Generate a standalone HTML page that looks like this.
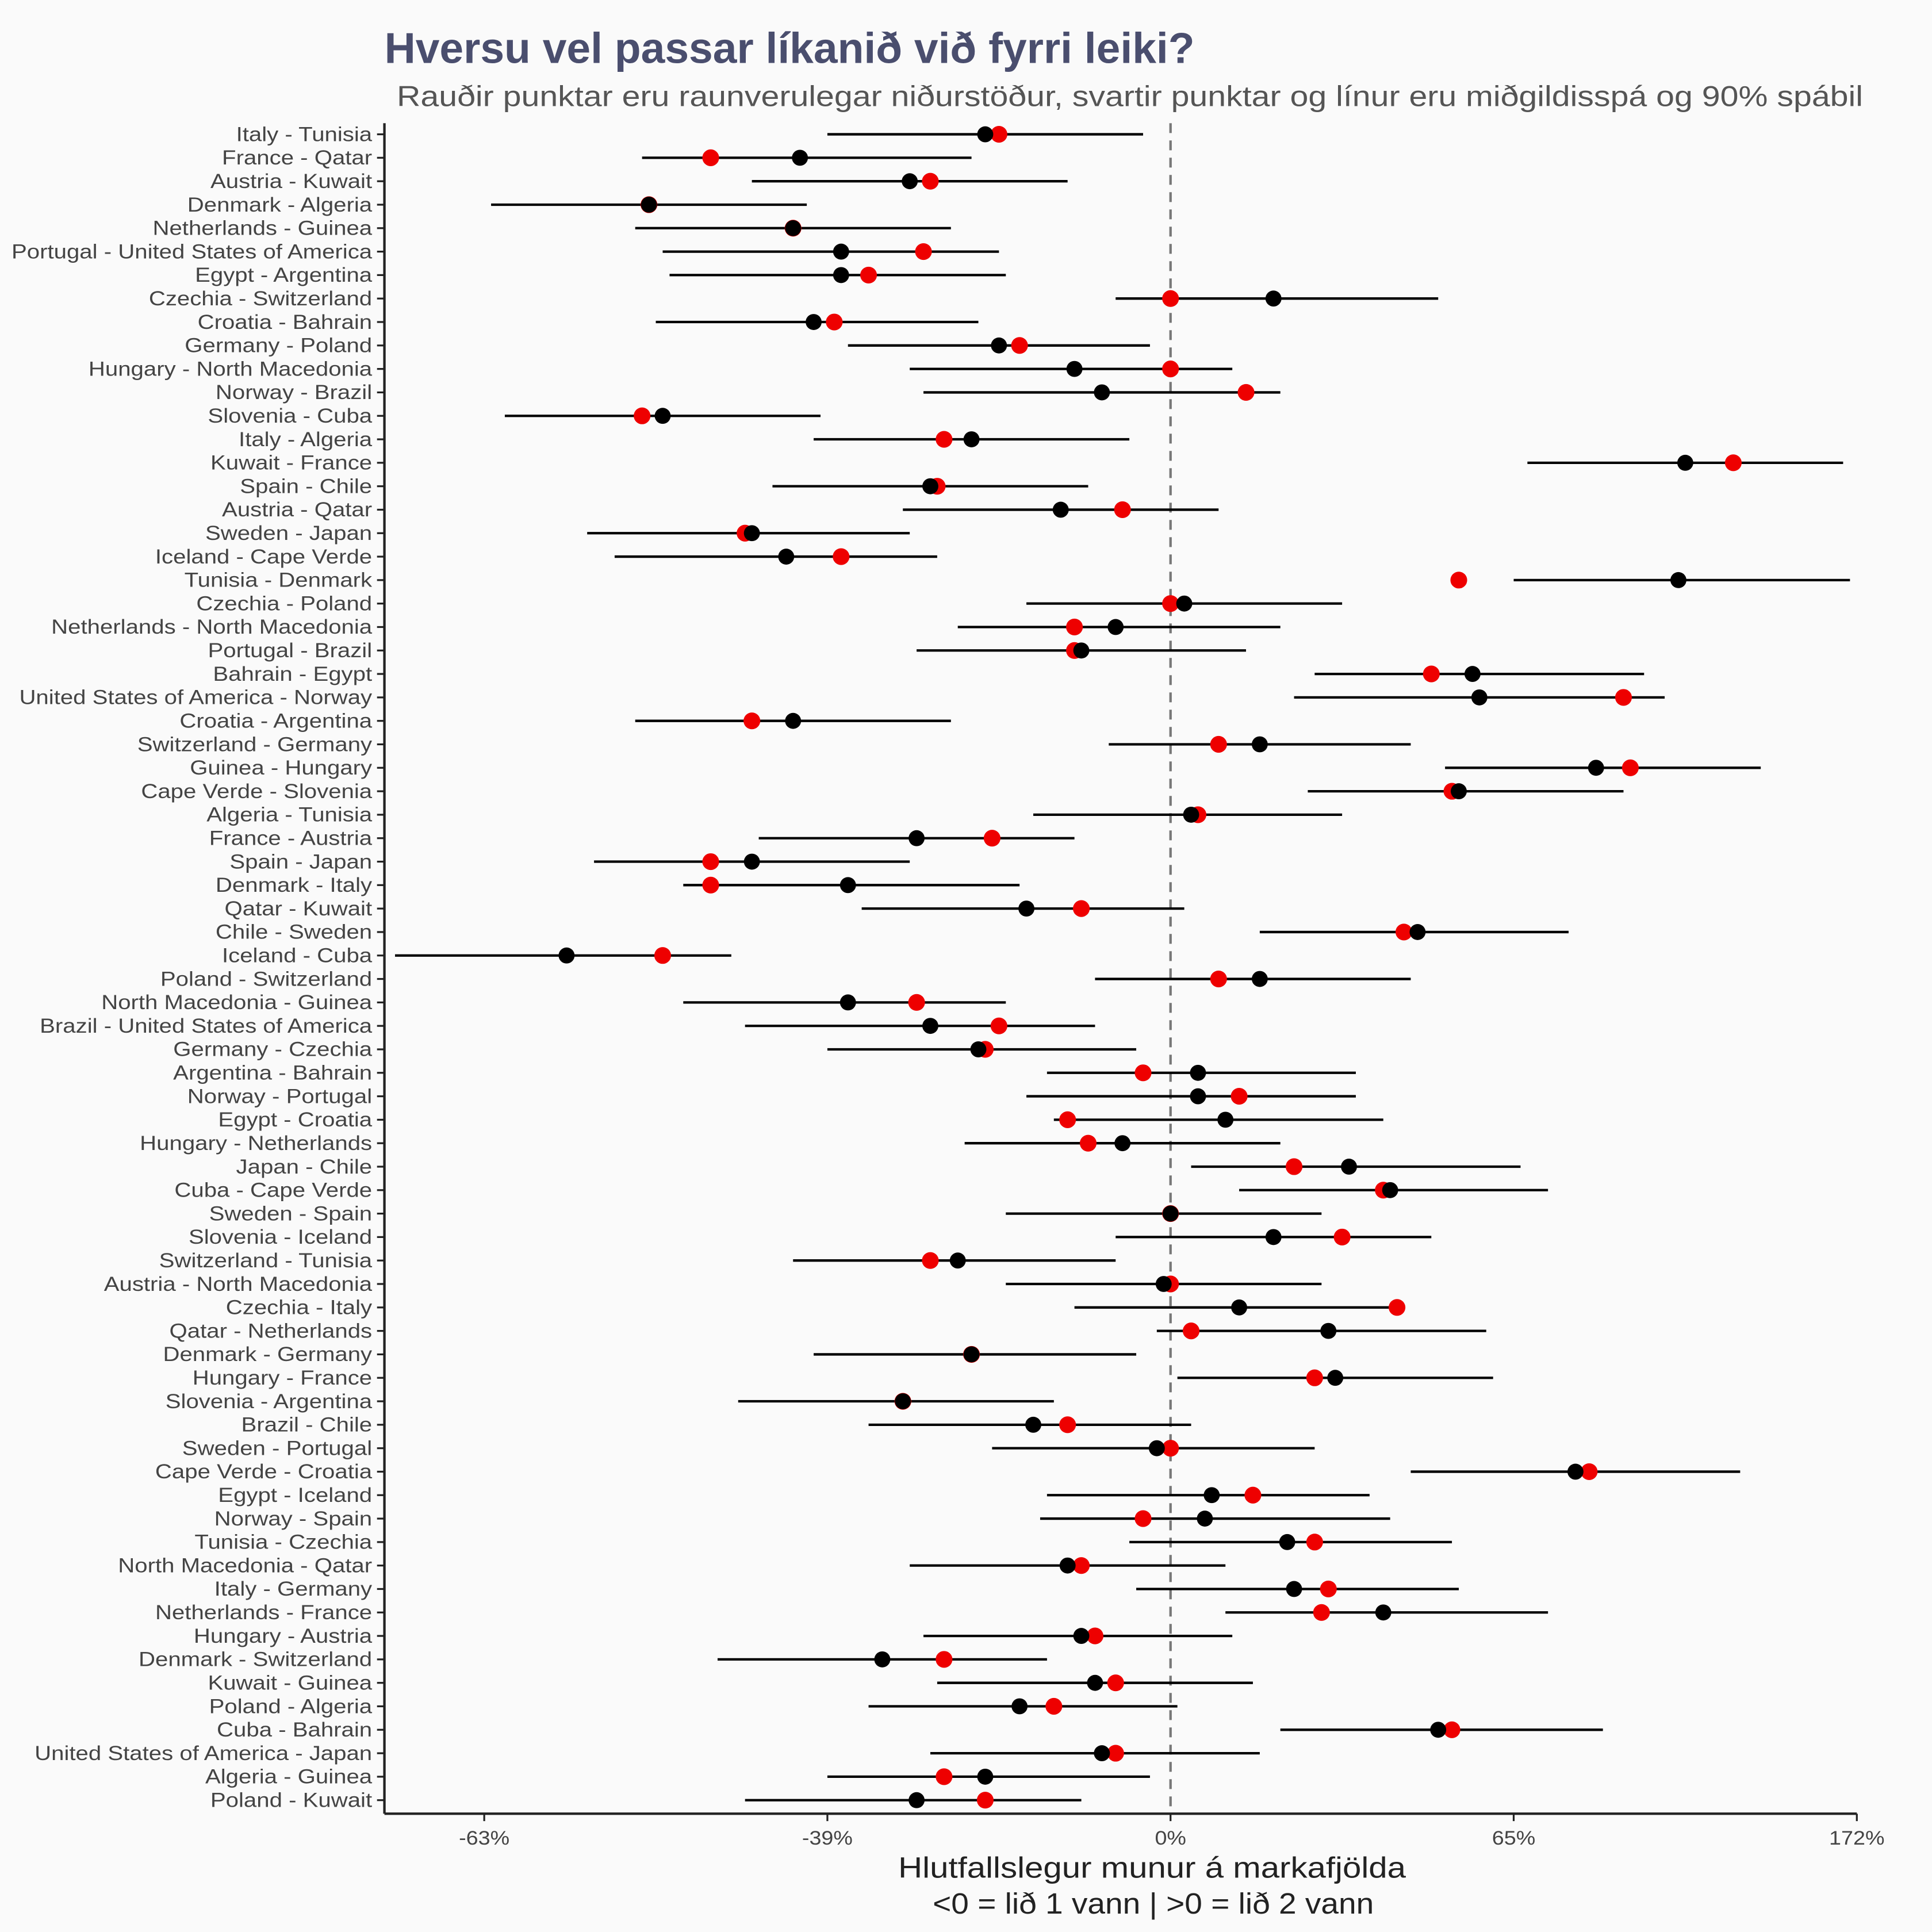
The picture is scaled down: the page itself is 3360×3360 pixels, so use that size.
<!DOCTYPE html>
<html><head><meta charset="utf-8">
<style>
html,body{margin:0;padding:0;background:#fafafa;}
svg{display:block;font-family:"Liberation Sans",sans-serif;}
</style></head>
<body>
<svg id="chart" width="3360" height="3360" viewBox="0 0 1568 1568" xmlns="http://www.w3.org/2000/svg">
<rect width="1568" height="1568" fill="#fafafa"/>
<text x="312" y="51" font-size="35" font-weight="bold" fill="#4a4e6e">Hversu vel passar líkanið við fyrri leiki?</text>
<text x="322" y="86" font-size="23.5" fill="#555" textLength="1190" lengthAdjust="spacingAndGlyphs">Rauðir punktar eru raunverulegar niðurstöður, svartir punktar og línur eru miðgildisspá og 90% spábil</text>
<g id="plot"></g>
<text x="729" y="1524" font-size="24" fill="#222" textLength="412" lengthAdjust="spacingAndGlyphs">Hlutfallslegur munur á markafjölda</text>
<text x="757" y="1553" font-size="24" fill="#222" textLength="358" lengthAdjust="spacingAndGlyphs">&lt;0 = lið 1 vann | &gt;0 = lið 2 vann</text>
</svg>
<script>
// values are log ratios ln(1 + relative difference)
const matches = ["Italy - Tunisia","France - Qatar","Austria - Kuwait","Denmark - Algeria","Netherlands - Guinea","Portugal - United States of America","Egypt - Argentina","Czechia - Switzerland","Croatia - Bahrain","Germany - Poland","Hungary - North Macedonia","Norway - Brazil","Slovenia - Cuba","Italy - Algeria","Kuwait - France","Spain - Chile","Austria - Qatar","Sweden - Japan","Iceland - Cape Verde","Tunisia - Denmark","Czechia - Poland","Netherlands - North Macedonia","Portugal - Brazil","Bahrain - Egypt","United States of America - Norway","Croatia - Argentina","Switzerland - Germany","Guinea - Hungary","Cape Verde - Slovenia","Algeria - Tunisia","France - Austria","Spain - Japan","Denmark - Italy","Qatar - Kuwait","Chile - Sweden","Iceland - Cuba","Poland - Switzerland","North Macedonia - Guinea","Brazil - United States of America","Germany - Czechia","Argentina - Bahrain","Norway - Portugal","Egypt - Croatia","Hungary - Netherlands","Japan - Chile","Cuba - Cape Verde","Sweden - Spain","Slovenia - Iceland","Switzerland - Tunisia","Austria - North Macedonia","Czechia - Italy","Qatar - Netherlands","Denmark - Germany","Hungary - France","Slovenia - Argentina","Brazil - Chile","Sweden - Portugal","Cape Verde - Croatia","Egypt - Iceland","Norway - Spain","Tunisia - Czechia","North Macedonia - Qatar","Italy - Germany","Netherlands - France","Hungary - Austria","Denmark - Switzerland","Kuwait - Guinea","Poland - Algeria","Cuba - Bahrain","United States of America - Japan","Algeria - Guinea","Poland - Kuwait"];
const lower = [-0.50,-0.77,-0.61,-0.99,-0.78,-0.74,-0.73,-0.08,-0.75,-0.47,-0.38,-0.36,-0.97,-0.52,0.52,-0.58,-0.39,-0.85,-0.81,0.50,-0.21,-0.31,-0.37,0.21,0.18,-0.78,-0.09,0.40,0.20,-0.20,-0.60,-0.84,-0.71,-0.45,0.13,-1.13,-0.11,-0.71,-0.62,-0.50,-0.18,-0.21,-0.17,-0.30,0.03,0.10,-0.24,-0.08,-0.55,-0.24,-0.14,-0.02,-0.52,0.01,-0.63,-0.44,-0.26,0.35,-0.18,-0.19,-0.06,-0.38,-0.05,0.08,-0.36,-0.66,-0.34,-0.44,0.16,-0.35,-0.50,-0.62];
const upper = [-0.04,-0.29,-0.15,-0.53,-0.32,-0.25,-0.24,0.39,-0.28,-0.03,0.09,0.16,-0.51,-0.06,0.98,-0.12,0.07,-0.38,-0.34,0.99,0.25,0.16,0.11,0.69,0.72,-0.32,0.35,0.86,0.66,0.25,-0.14,-0.38,-0.22,0.02,0.58,-0.64,0.35,-0.24,-0.11,-0.05,0.27,0.27,0.31,0.16,0.51,0.55,0.22,0.38,-0.08,0.22,0.33,0.46,-0.05,0.47,-0.17,0.03,0.21,0.83,0.29,0.32,0.41,0.08,0.42,0.55,0.09,-0.18,0.12,0.01,0.63,0.13,-0.03,-0.13];
const median = [-0.27,-0.54,-0.38,-0.76,-0.55,-0.48,-0.48,0.15,-0.52,-0.25,-0.14,-0.10,-0.74,-0.29,0.75,-0.35,-0.16,-0.61,-0.56,0.74,0.02,-0.08,-0.13,0.44,0.45,-0.55,0.13,0.62,0.42,0.03,-0.37,-0.61,-0.47,-0.21,0.36,-0.88,0.13,-0.47,-0.35,-0.28,0.04,0.04,0.08,-0.07,0.26,0.32,0.00,0.15,-0.31,-0.01,0.10,0.23,-0.29,0.24,-0.39,-0.20,-0.02,0.59,0.06,0.05,0.17,-0.15,0.18,0.31,-0.13,-0.42,-0.11,-0.22,0.39,-0.10,-0.27,-0.37];
const actual = [-0.25,-0.67,-0.35,-0.76,-0.55,-0.36,-0.44,0,-0.49,-0.22,0,0.11,-0.77,-0.33,0.82,-0.34,-0.07,-0.62,-0.48,0.42,0,-0.14,-0.14,0.38,0.66,-0.61,0.07,0.67,0.41,0.04,-0.26,-0.67,-0.67,-0.13,0.34,-0.74,0.07,-0.37,-0.25,-0.27,-0.04,0.10,-0.15,-0.12,0.18,0.31,0,0.25,-0.35,0,0.33,0.03,-0.29,0.21,-0.39,-0.15,0,0.61,0.12,-0.04,0.21,-0.13,0.23,0.22,-0.11,-0.33,-0.08,-0.17,0.41,-0.08,-0.33,-0.27];
const tickValues = [-1, -0.5, 0, 0.5, 1];
const tickLabels = ["-63%","-39%","0%","65%","172%"];

const NS = "http://www.w3.org/2000/svg";
const plot = document.getElementById("plot");
const X0 = 950, XS = 557;
const xScale = v => X0 + v * XS;
const yTop = 109, yStep = (1461 - 109) / (matches.length - 1);
const yScale = i => yTop + i * yStep;
function mk(tag, attrs) {
  const e = document.createElementNS(NS, tag);
  for (const k in attrs) e.setAttribute(k, attrs[k]);
  plot.appendChild(e);
  return e;
}
let e = mk("line", {x1: 312, y1: 100, x2: 312, y2: 1472, stroke: "#222", "stroke-width": 2});


e = mk("line", {x1: 312, y1: 1472, x2: xScale(1), y2: 1472, stroke: "#222", "stroke-width": 2});


e = mk("line", {x1: xScale(0), y1: 100, x2: xScale(0), y2: 1472, stroke: "#777", "stroke-width": 2, "stroke-dasharray": "8,6"});


tickValues.forEach((v, i) => {
  const t = mk("line", {x1: xScale(v), y1: 1472, x2: xScale(v), y2: 1478, stroke: "#222", "stroke-width": 1.5});
  
  
  const l = mk("text", {x: xScale(v), y: 1497, "font-size": 16, fill: "#444", "text-anchor": "middle", transform: `translate(${xScale(v)},0) scale(1.1,1) translate(${-xScale(v)},0)`});
  l.textContent = tickLabels[i];
  
  
});
matches.forEach((m, i) => {
  const y = yScale(i);
  const t = mk("line", {x1: 306, y1: y, x2: 312, y2: y, stroke: "#222", "stroke-width": 1.5});
  
  
  const l = mk("text", {x: 302, y: y + 5.5, "font-size": 16.3, fill: "#444", "text-anchor": "end", transform: "translate(302,0) scale(1.15,1) translate(-302,0)"});
  l.textContent = m;
  
  
  const r = mk("line", {x1: xScale(lower[i]), y1: y, x2: xScale(upper[i]), y2: y, stroke: "#000", "stroke-width": 2});
  
  
  const a = mk("circle", {cx: xScale(actual[i]), cy: y, r: 6.8, fill: "#ee0000"});
  
  
  const b = mk("circle", {cx: xScale(median[i]), cy: y, r: 6.5, fill: "#000"});
  
  
});
</script>
</body></html>
